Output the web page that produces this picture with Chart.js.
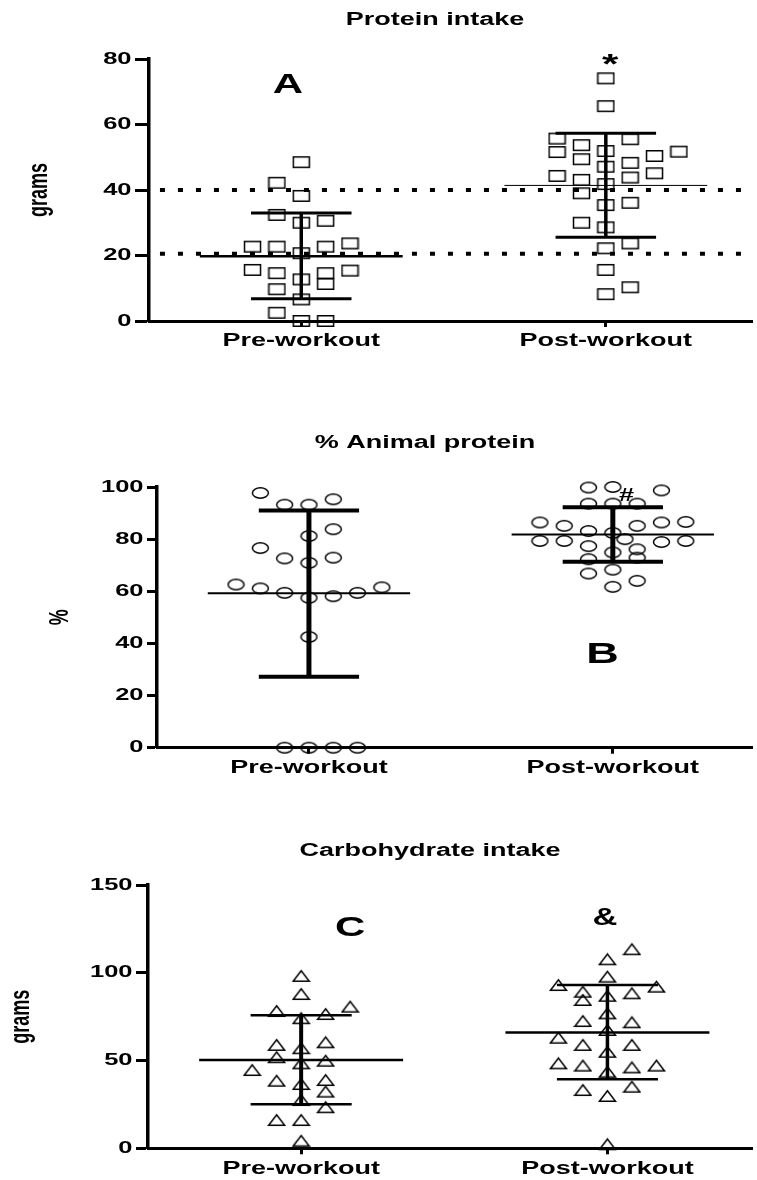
<!DOCTYPE html>
<html>
<head>
<meta charset="utf-8">
<script src="https://cdn.jsdelivr.net/npm/chart.js@4.4.0/dist/chart.umd.min.js"></script>
<style>
  body { margin: 0; background: #fff; }
  #wrap { position: relative; width: 757px; height: 1180px; overflow: hidden; background: #fff; }
  canvas { position: absolute; left: 0; }
</style>
</head>
<body>
<div id="wrap">
  <canvas id="protein" width="757" height="370" style="top:0px"></canvas>
  <canvas id="animal" width="757" height="397" style="top:400px"></canvas>
  <canvas id="carbs" width="757" height="380" style="top:800px"></canvas>
</div>
<script>
const groups = ['Pre-workout', 'Post-workout'];
const slotWidth = 0.08;   // horizontal jitter step, in category units

// Protein intake (grams)
const proteinPre = [48.5, 42.2, 38.2, 32.4, 30.0, 30.6, 22.7, 22.7, 20.7, 22.7, 23.7,
                    15.6, 14.6, 12.7, 14.6, 11.3, 15.4, 9.7, 6.6, 2.5, 0, 0];
const proteinPreSlot = [0, -1, 0, -1, 0, 1, -2, -1, 0, 1, 2,
                        -2, -1, 0, 1, 1, 2, -1, 0, -1, 0, 1];
const proteinPost = [74.1, 65.6, 55.7, 53.7, 55.5, 51.6, 51.9, 49.4, 50.4, 51.7, 47.1, 48.3, 45.1,
                     44.3, 43.1, 43.8, 41.8, 39.0, 35.4, 36.1, 30.0, 28.6, 22.2, 23.7, 15.6, 8.2, 10.3];
const proteinPostSlot = [0, 0, -2, -1, 1, -2, 0, -1, 2, 3, 0, 1, 2,
                         -2, -1, 1, 0, -1, 0, 1, -1, 0, 0, 1, 0, 0, 1];
const proteinMean = [19.8, 41.4];
const proteinSdLow = [6.8, 25.6];
const proteinSdHigh = [33.0, 57.3];
const proteinRefLines = [40, 20.5];
const proteinMarks = ['A', '*'];
const proteinMarkX = [-0.044, 1.014];
const proteinMarkY = [72, 78];

// % Animal protein
const animalPre = [97.7, 93.2, 93.2, 95.3, 81.2, 83.8, 76.6, 72.6, 70.9, 72.9, 62.6,
                   61.1, 59.4, 57.5, 58.1, 59.4, 61.5, 42.5, 0, 0, 0, 0];
const animalPreSlot = [-2, -1, 0, 1, 0, 1, -2, -1, 0, 1, -3,
                       -2, -1, 0, 1, 2, 3, 0, -1, 0, 1, 2];
const animalPost = [99.8, 100, 98.7, 93.6, 93.6, 93.6, 86.4, 85.1, 83.1, 82.4, 85.1, 86.4, 86.6,
                    79.3, 79.3, 77.3, 80.0, 78.9, 79.3, 74.9, 76.1, 72.9, 72.3, 66.8, 68.3, 64.0, 61.7];
const animalPostSlot = [-1, 0, 2, -1, 0, 1, -3, -2, -1, 0, 1, 2, 3,
                        -3, -2, -1, 0.5, 2, 3, 0, 1, 1, -1, -1, 0, 1, 0];
const animalMean = [59.2, 81.8];
const animalSdLow = [27.2, 71.3];
const animalSdHigh = [91.0, 92.2];
const animalMarks = ['#', 'B'];
const animalMarkX = [1.045, 0.966];
const animalMarkY = [96.5, 35.5];

// Carbohydrate intake (grams)
const carbsPre = [98.2, 87.9, 78.2, 80.7, 76.5, 74.1, 58.9, 57.0, 60.4, 51.9, 48.4,
                  49.9, 44.6, 38.5, 36.6, 38.9, 32.3, 27.5, 23.4, 16.1, 16.1, 4.3];
const carbsPreSlot = [0, 0, -1, 2, 1, 0, -1, 0, 1, -1, 0,
                      1, -2, -1, 0, 1, 1, 0, 1, -1, 0, 0];
const carbsPost = [113.4, 107.7, 97.8, 93.0, 92.1, 89.2, 86.9, 88.3, 84.5, 76.9, 72.5, 71.8, 67.4,
                   63.0, 58.9, 58.9, 55.0, 48.4, 47.1, 43.6, 46.1, 47.1, 35.1, 33.2, 29.8, 2.3];
const carbsPostSlot = [1, 0, 0, -2, 2, -1, 0, 1, -1, 0, -1, 1, 0,
                       -2, -1, 1, 0, -2, -1, 0, 1, 2, 1, -1, 0, 0];
const carbsMean = [50.3, 65.9];
const carbsSdLow = [25.1, 39.3];
const carbsSdHigh = [75.8, 93.0];
const carbsMarks = ['C', '&'];
const carbsMarkX = [0.16, 0.992];
const carbsMarkY = [125.4, 131];

const meanHalf = 0.333;
const capHalf = 0.165;
const fontFamily = '"Liberation Sans", Arial, sans-serif';
const stretch = 1.5;   // the original figure is squeezed wide, text included

// open marker drawn once, used as an image point style
function marker(shape) {
  const c = document.createElement('canvas');
  c.width = 19; c.height = 14;
  const g = c.getContext('2d');
  g.strokeStyle = '#000';
  g.lineWidth = 1.5;
  g.beginPath();
  if (shape === 'rect') {
    g.rect(1.5, 1.75, 16, 10.5);
  } else if (shape === 'ellipse') {
    g.ellipse(9.5, 7, 8, 5.2, 0, 0, Math.PI * 2);
  } else {
    g.moveTo(1.5, 12.25); g.lineTo(9.5, 1.75); g.lineTo(17.5, 12.25); g.closePath();
  }
  g.stroke();
  return c;
}

function pointSet(values, slots, groupIndex, style) {
  return {
    data: values.map((v, i) => ({ x: groupIndex + slots[i] * slotWidth, y: v })),
    pointStyle: style,
    showLine: false,
    clip: false
  };
}

function segment(x0, y0, x1, y1, width, dash) {
  return {
    data: [{ x: x0, y: y0 }, { x: x1, y: y1 }],
    showLine: true,
    borderColor: '#000',
    borderWidth: width,
    borderDash: dash || [],
    pointRadius: 0,
    clip: false
  };
}

function summarySets(mean, low, high, widths) {
  const sets = [];
  groups.forEach((_, g) => {
    const w = widths[g];
    sets.push(segment(g - meanHalf, mean[g], g + meanHalf, mean[g], w.mean));
    sets.push(segment(g - capHalf, high[g], g + capHalf, high[g], w.cap));
    sets.push(segment(g - capHalf, low[g], g + capHalf, low[g], w.cap));
    sets.push(segment(g, low[g], g, high[g], w.bar));
  });
  return sets;
}

function wideText(ctx, text, x, y, size, align, vertical) {
  ctx.save();
  ctx.translate(x, y);
  ctx.scale(stretch, 1);
  if (vertical) ctx.rotate(-Math.PI / 2);
  ctx.font = 'bold ' + size + 'px ' + fontFamily;
  ctx.fillStyle = '#000';
  ctx.textAlign = align;
  ctx.textBaseline = 'middle';
  ctx.fillText(text, 0, 0);
  ctx.restore();
}

// all text: titles, tick labels from the scales, panel letters
const panelText = {
  id: 'panelText',
  afterDraw(chart, args, o) {
    const { ctx, chartArea, scales: { x, y } } = chart;
    wideText(ctx, o.title, o.titleX, o.titleY, 18, 'center');
    wideText(ctx, o.yTitle, o.yTitleX, (chartArea.top + chartArea.bottom) / 2, 18, 'center', true);
    y.ticks.forEach(t => {
      wideText(ctx, String(t.value), chartArea.left - o.tickLen - 3.5, y.getPixelForValue(t.value), 17, 'right');
    });
    x.ticks.forEach(t => {
      wideText(ctx, groups[t.value], x.getPixelForValue(t.value), chartArea.bottom + 20.5, 18, 'center');
    });
    o.marks.forEach((m, i) => {
      wideText(ctx, m, x.getPixelForValue(o.markX[i]), y.getPixelForValue(o.markY[i]), o.sizes[i], 'center');
    });
  }
};

function makePanel(id, p) {
  const canvas = document.getElementById(id);
  return new Chart(canvas, {
    type: 'scatter',
    data: { datasets: p.datasets },
    options: {
      responsive: false,
      animation: false,
      events: [],
      layout: { padding: { top: p.plotTop, left: 0, right: 0, bottom: 0 } },
      plugins: {
        legend: { display: false },
        tooltip: { enabled: false },
        panelText: {
          title: p.title, titleX: p.titleX, titleY: p.titleY,
          yTitle: p.yTitle, yTitleX: p.yTitleX, tickLen: p.tickLen,
          marks: p.marks, markX: p.markX, markY: p.markY, sizes: p.markSizes
        }
      },
      scales: {
        x: {
          type: 'linear',
          min: -0.5,
          max: p.xMax,
          afterBuildTicks: s => { s.ticks = groups.map((_, i) => ({ value: i })); },
          afterFit: s => { s.height = canvas.height - p.plotBottom; },
          border: { display: true, color: '#000', width: 3 },
          grid: { display: true, drawOnChartArea: false, drawTicks: true, tickLength: 6, tickWidth: 3, tickColor: '#000' },
          ticks: { display: false, autoSkip: false }
        },
        y: {
          min: 0,
          max: p.yMax,
          afterFit: s => { s.width = p.plotLeft; },
          border: { display: true, color: '#000', width: 3.5 },
          grid: { display: true, drawOnChartArea: false, drawTicks: true, tickLength: p.tickLen, tickWidth: 3, tickColor: '#000' },
          ticks: { display: false, stepSize: p.yStep }
        }
      }
    },
    plugins: [panelText]
  });
}

makePanel('protein', {
  title: 'Protein intake', titleX: 435, titleY: 20,
  yTitle: 'grams', yTitleX: 40, tickLen: 14,
  plotTop: 59, plotBottom: 321, plotLeft: 149, xMax: 1.48,
  yMax: 80, yStep: 20,
  marks: proteinMarks, markX: proteinMarkX, markY: proteinMarkY, markSizes: [28, 28],
  datasets: [
    ...summarySets(proteinMean, proteinSdLow, proteinSdHigh,
      [{ mean: 2.5, cap: 3, bar: 3.5 }, { mean: 1, cap: 3, bar: 3.5 }]),
    ...proteinRefLines.map(v => segment(-0.464, v, 1.48, v, 4, [5, 13])),
    pointSet(proteinPre, proteinPreSlot, 0, marker('rect')),
    pointSet(proteinPost, proteinPostSlot, 1, marker('rect'))
  ]
});

makePanel('animal', {
  title: '% Animal protein', titleX: 425, titleY: 43,
  yTitle: '%', yTitleX: 61, tickLen: 10,
  plotTop: 87, plotBottom: 347.7, plotLeft: 157, xMax: 1.458,
  yMax: 100, yStep: 20,
  marks: animalMarks, markX: animalMarkX, markY: animalMarkY, markSizes: [18, 30],
  datasets: [
    ...summarySets(animalMean, animalSdLow, animalSdHigh,
      [{ mean: 2, cap: 4, bar: 5 }, { mean: 2, cap: 4, bar: 5 }]),
    pointSet(animalPre, animalPreSlot, 0, marker('ellipse')),
    pointSet(animalPost, animalPostSlot, 1, marker('ellipse'))
  ]
});

makePanel('carbs', {
  title: 'Carbohydrate intake', titleX: 430, titleY: 51,
  yTitle: 'grams', yTitleX: 22, tickLen: 12,
  plotTop: 85, plotBottom: 348.3, plotLeft: 148, xMax: 1.472,
  yMax: 150, yStep: 50,
  marks: carbsMarks, markX: carbsMarkX, markY: carbsMarkY, markSizes: [28, 23],
  datasets: [
    ...summarySets(carbsMean, carbsSdLow, carbsSdHigh,
      [{ mean: 2.5, cap: 2.5, bar: 4 }, { mean: 2.5, cap: 2.5, bar: 3.5 }]),
    pointSet(carbsPre, carbsPreSlot, 0, marker('triangle')),
    pointSet(carbsPost, carbsPostSlot, 1, marker('triangle'))
  ]
});
</script>
</body>
</html>
